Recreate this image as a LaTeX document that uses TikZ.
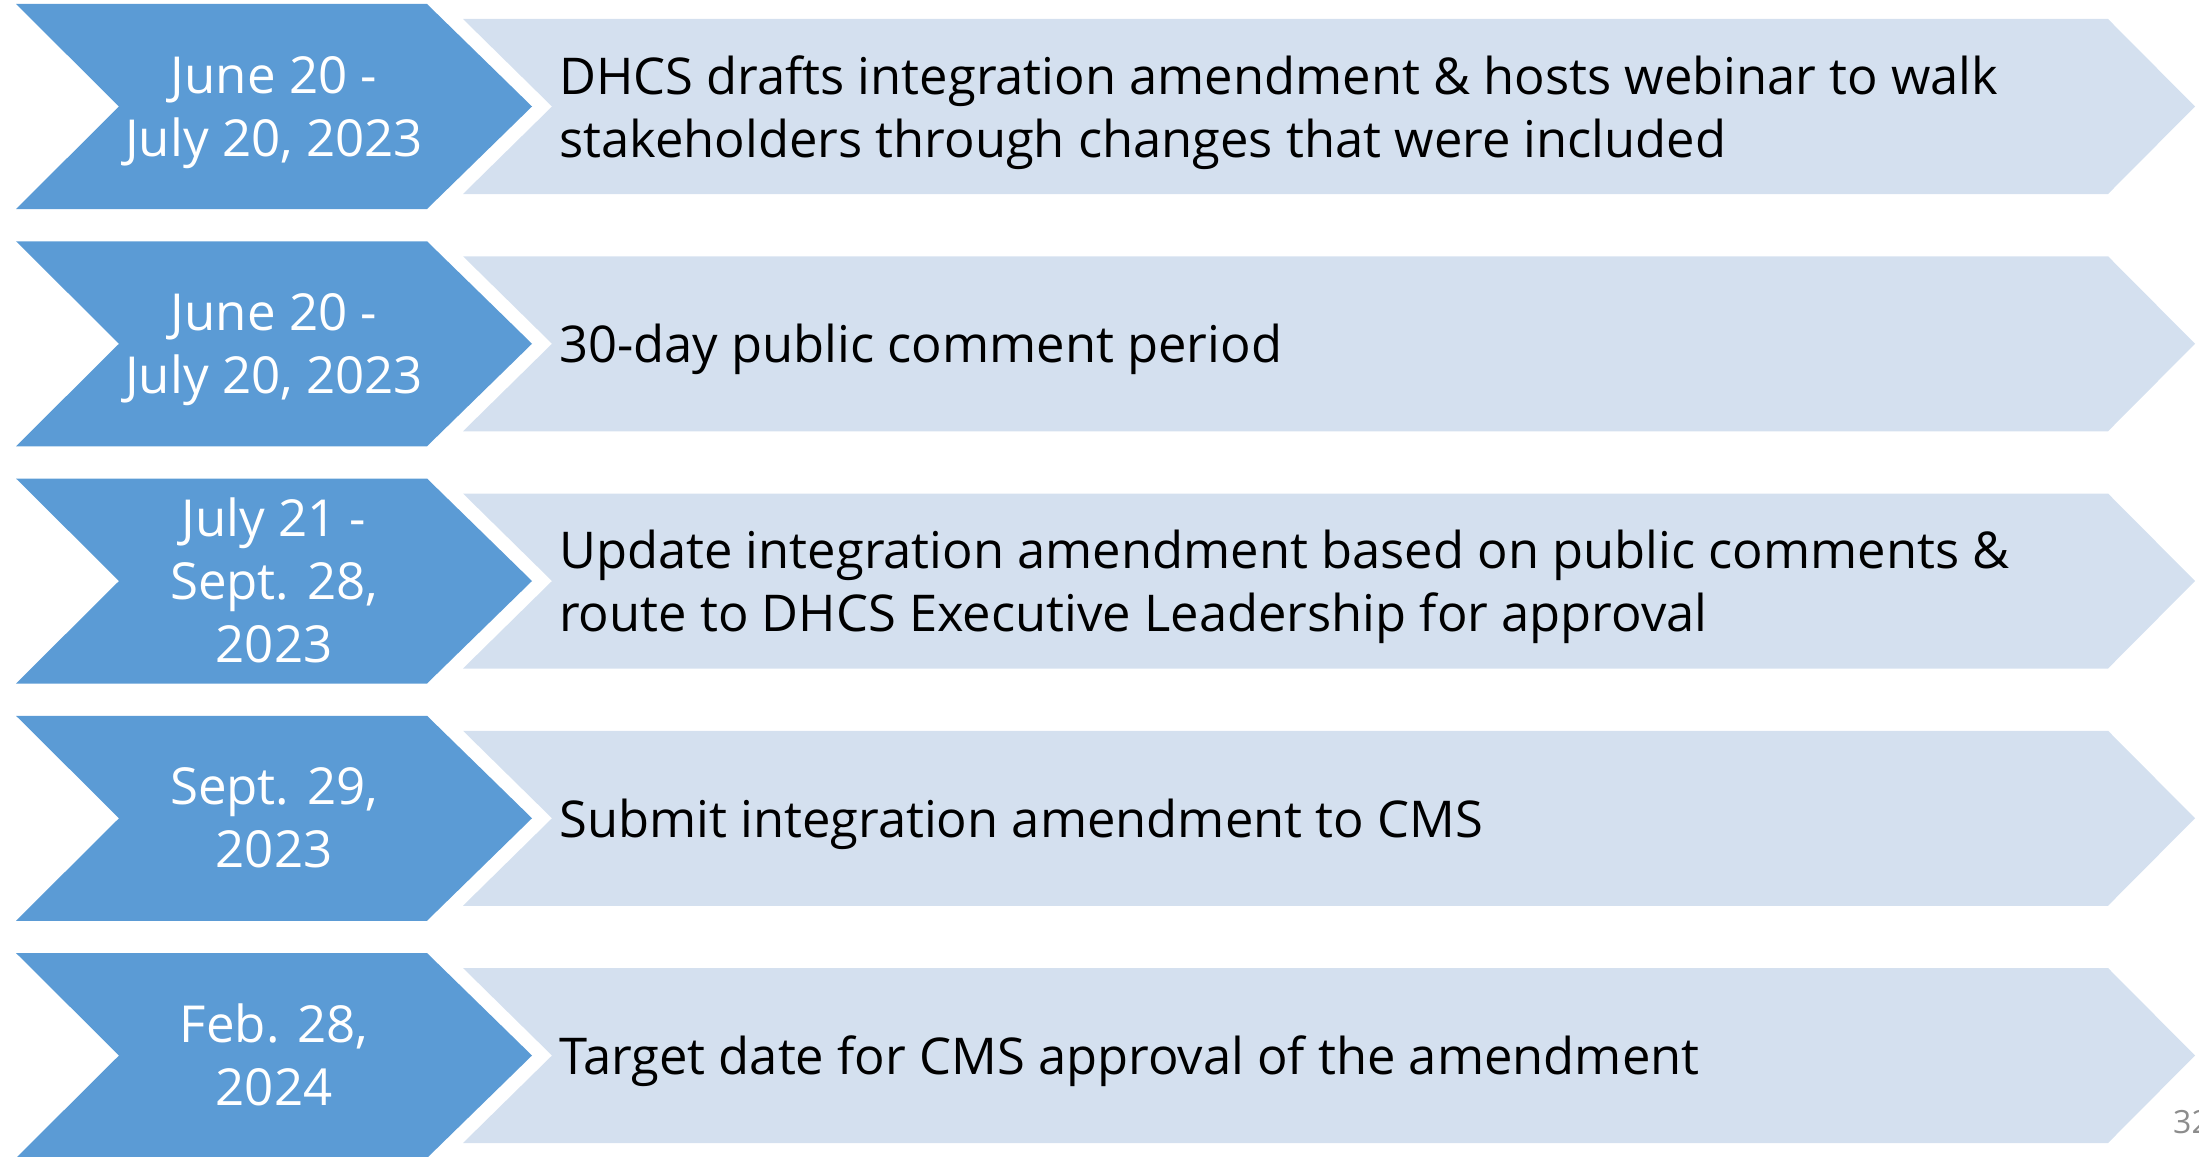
\documentclass[tikz,border=0pt]{standalone}
\usepackage{fontspec}
\setmainfont{Open Sans}
\definecolor{darkblue}{HTML}{5B9BD5}
\definecolor{lightblue}{HTML}{D4E0EF}
\definecolor{pagegray}{HTML}{8C8C8C}
\tikzset{
  datebox/.style={fill=darkblue},
  taskbox/.style={fill=lightblue},
  datetext/.style={text=white, align=center, anchor=base, inner sep=0pt, font=\fontsize{51}{63}\selectfont},
  tasktext/.style={text=black, align=left, anchor=base west, inner sep=0pt, font=\fontsize{50.7}{63}\selectfont},
}
\begin{document}
\begin{tikzpicture}[x=1pt,y=-1pt]
\useasboundingbox (0,0) rectangle (2199,1156);
\clip (0,0) rectangle (2199,1156);
\foreach \i/\nd/\dt/\nt/\tk in {
  0/2/{June 20 -\\July 20, 2023}/2/{DHCS drafts integration amendment \& hosts webinar to walk\\stakeholders through changes that were included},
  1/2/{June 20 -\\July 20, 2023}/1/{30-day public comment period},
  2/3/{July 21 -\\Sept. 28,\\2023}/2/{Update integration amendment based on public comments \&\\route to DHCS Executive Leadership for approval},
  3/2/{Sept. 29,\\2023}/1/{Submit integration amendment to CMS},
  4/2/{Feb. 28,\\2024}/1/{Target date for CMS approval of the amendment}}{
  \pgfmathsetmacro{\dy}{\i*237.25}
  \pgfmathsetmacro{\by}{106.5+\dy+(\nd-1)*31.5+18}
  \pgfmathsetmacro{\bt}{106.5+\dy+(\nt-1)*31.5+19}
  \path[datebox] (16,4+\dy) -- (427,4+\dy) -- (532,106.5+\dy) -- (427,209+\dy) -- (16,209+\dy) -- (119,106.5+\dy) -- cycle;
  \path[taskbox] (463,19+\dy) -- (2108,19+\dy) -- (2195,106.5+\dy) -- (2108,194+\dy) -- (463,194+\dy) -- (552,106.5+\dy) -- cycle;
  \node[datetext] (date\i) at (274,\by) {\dt};
  \node[tasktext] (task\i) at (559,\bt) {\tk};
}
\node[text=pagegray, anchor=base west, inner sep=0pt, font=\fontsize{32}{38}\selectfont] (pagenum) at (2173,1133) {32};
\end{tikzpicture}
\end{document}
